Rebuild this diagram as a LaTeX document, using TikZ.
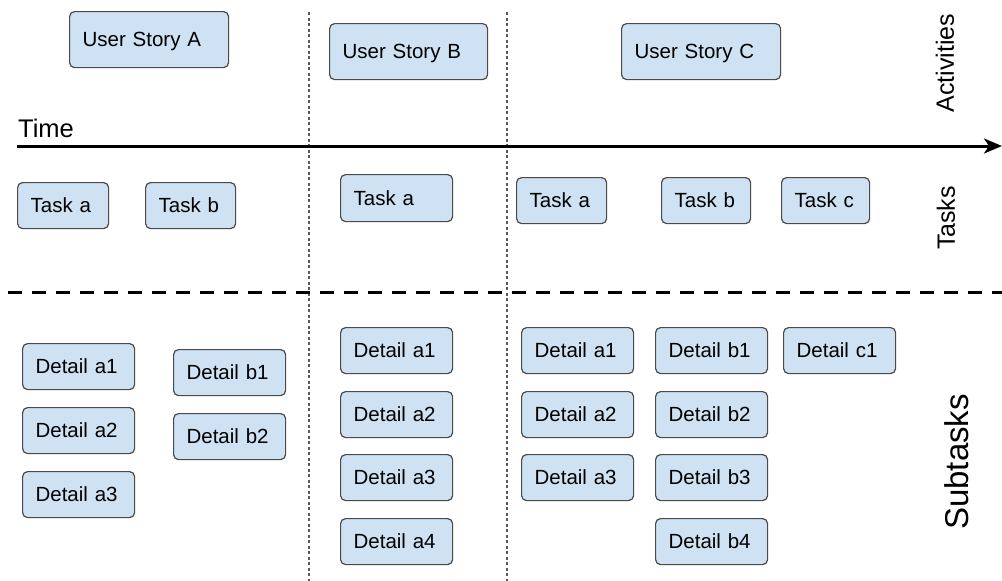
\documentclass[tikz,border=0pt]{standalone}
\usepackage{fontspec}
\setmainfont{Liberation Sans}
\usetikzlibrary{arrows.meta}
\definecolor{cardfill}{HTML}{CFE2F3}
\definecolor{carddraw}{HTML}{4A4A4A}
\definecolor{sepgray}{HTML}{5A5A5A}
\tikzset{
  card/.style={draw=carddraw, fill=cardfill, line width=1.2pt, rounded corners=5pt,
    inner xsep=13pt, inner ysep=0pt, align=left, anchor=north west,
    font=\fontsize{20.5}{24}\selectfont, text height=15pt, text depth=1pt},
  sidelabel/.style={rotate=90, inner sep=0pt, font=\fontsize{25}{30}\selectfont},
  colsep/.style={draw=sepgray, line width=1.2pt, dash pattern=on 3pt off 2.5pt},
  rowsep/.style={draw=black, line width=3pt, dash pattern=on 14pt off 10pt},
  timeline/.style={draw=black, line width=3pt, -{Stealth[length=18pt,width=15pt,inset=5pt]}}
}
\newcommand\mkcard[6]{%
  \pgfmathsetmacro\cardtw{#4-26}%
  \node[card, minimum height=#5pt, text width=\cardtw pt] (#1) at (#2,#3) {#6};}
\begin{document}
\begin{tikzpicture}[x=1pt,y=-1pt]
\useasboundingbox (0,0) rectangle (1002,581);
% separators
\coordinate (v1t) at (309,12); \coordinate (v1b) at (309,581);
\coordinate (v2t) at (507,12); \coordinate (v2b) at (507,581);
\draw[colsep] (v1t) -- (v1b);
\draw[colsep] (v2t) -- (v2b);
\coordinate (hl) at (8,292); \coordinate (hr) at (1002,292);
\draw[rowsep] (hl) -- (hr);
\coordinate (ts) at (17,146); \coordinate (te) at (1002,146);
\draw[timeline] (ts) -- (te);
% labels
\node[anchor=base west, inner sep=0pt, font=\fontsize{25.5}{30}\selectfont] (time) at (18,137) {Time};
\node[sidelabel] (act) at (945,63) {Activities};
\node[sidelabel] (tasks) at (946,218) {Tasks};
\node[sidelabel, font=\fontsize{33}{38}\selectfont] (sub) at (957,462) {Subtasks};
% user stories
\mkcard{usA}{69}{11}{159}{56}{User Story A}
\mkcard{usB}{329}{23}{158}{56}{User Story B}
\mkcard{usC}{621}{23}{159}{56}{User Story C}
% tasks
\mkcard{tAa}{17}{182}{91}{46}{Task a}
\mkcard{tAb}{145}{182}{90}{46}{Task b}
\mkcard{tBa}{340}{174}{112}{47}{Task a}
\mkcard{tCa}{516}{177}{90}{46}{Task a}
\mkcard{tCb}{661}{177}{89}{46}{Task b}
\mkcard{tCc}{781}{177}{88}{46}{Task c}
% details
\mkcard{dAa1}{22}{343}{112}{46}{Detail a1}
\mkcard{dAa2}{22}{407}{112}{46}{Detail a2}
\mkcard{dAa3}{22}{471}{112}{46}{Detail a3}
\mkcard{dAb1}{173}{349}{112}{46}{Detail b1}
\mkcard{dAb2}{173}{413}{112}{46}{Detail b2}
\mkcard{dBa1}{340}{327}{112}{46}{Detail a1}
\mkcard{dBa2}{340}{391}{112}{46}{Detail a2}
\mkcard{dBa3}{340}{454}{112}{46}{Detail a3}
\mkcard{dBa4}{340}{518}{112}{46}{Detail a4}
\mkcard{dCa1}{521}{327}{112}{46}{Detail a1}
\mkcard{dCa2}{521}{391}{112}{46}{Detail a2}
\mkcard{dCa3}{521}{454}{112}{46}{Detail a3}
\mkcard{dCb1}{655}{327}{112}{46}{Detail b1}
\mkcard{dCb2}{655}{391}{112}{46}{Detail b2}
\mkcard{dCb3}{655}{454}{112}{46}{Detail b3}
\mkcard{dCb4}{655}{518}{112}{46}{Detail b4}
\mkcard{dCc1}{783}{327}{112}{46}{Detail c1}
\end{tikzpicture}
\end{document}
